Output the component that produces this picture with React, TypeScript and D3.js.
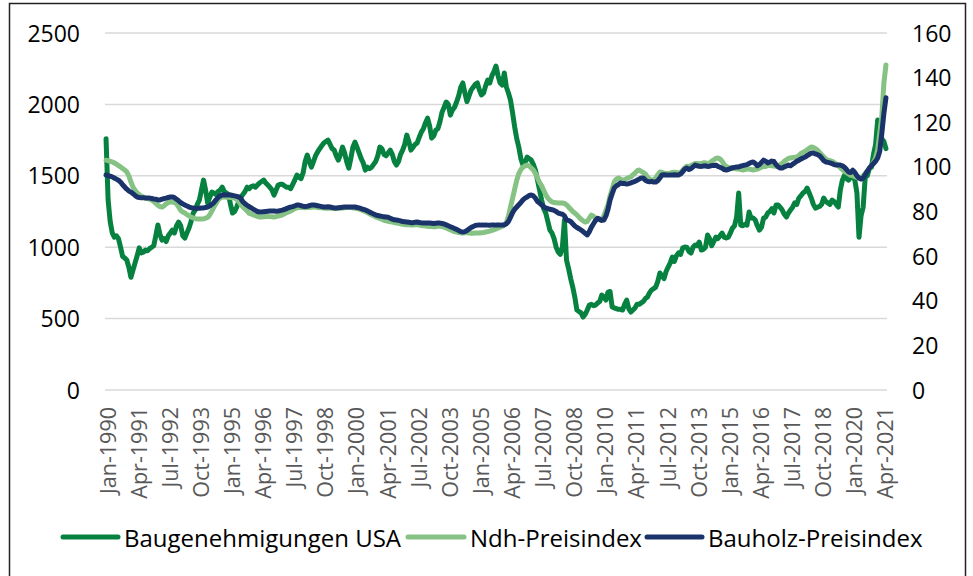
import React from "react";
import * as d3 from "d3";

// ---- Data (monthly, Jan 1990 – May 2021) ----
const startYear = 1990;

// Baugenehmigungen USA (left axis, thousands)
const permits: number[] = [
  1760, 1330, 1180, 1100, 1070, 1080, 1060, 1000, 935, 925, 910, 860, // 1990
  790, 840, 890, 940, 995, 960, 965, 980, 975, 990, 1000, 1010, // 1991
  1080, 1155, 1090, 1050, 1060, 1040, 1080, 1100, 1120, 1100, 1150, 1176, // 1992
  1150, 1080, 1064, 1100, 1134, 1180, 1239, 1260, 1300, 1330, 1400, 1470, // 1993
  1400, 1309, 1350, 1386, 1380, 1370, 1390, 1400, 1421, 1390, 1380, 1370, // 1994
  1300, 1239, 1250, 1280, 1320, 1350, 1370, 1390, 1420, 1410, 1425, 1430, // 1995
  1420, 1435, 1450, 1460, 1470, 1450, 1435, 1420, 1400, 1365, 1400, 1435, // 1996
  1440, 1440, 1430, 1420, 1420, 1410, 1440, 1470, 1505, 1490, 1480, 1520, // 1997
  1600, 1645, 1600, 1561, 1600, 1640, 1667, 1690, 1710, 1729, 1740, 1750, // 1998
  1720, 1690, 1680, 1640, 1610, 1650, 1701, 1660, 1600, 1554, 1620, 1700, // 1999
  1736, 1700, 1660, 1620, 1590, 1540, 1560, 1550, 1560, 1580, 1600, 1640, // 2000
  1701, 1690, 1650, 1640, 1660, 1680, 1650, 1600, 1575, 1600, 1650, 1680, // 2001
  1720, 1785, 1740, 1680, 1700, 1720, 1730, 1770, 1806, 1830, 1870, 1904, // 2002
  1850, 1764, 1780, 1820, 1830, 1880, 1946, 1980, 2017, 2000, 1925, 1960, // 2003
  1980, 2017, 2060, 2120, 2150, 2080, 2020, 2060, 2100, 2120, 2140, 2150, // 2004
  2100, 2066, 2080, 2130, 2170, 2150, 2200, 2230, 2269, 2200, 2150, 2136, // 2005
  2220, 2122, 2080, 2030, 1940, 1842, 1760, 1700, 1620, 1575, 1590, 1631, // 2006
  1620, 1610, 1580, 1540, 1470, 1400, 1330, 1270, 1239, 1180, 1120, 1099, // 2007
  1060, 1000, 966, 950, 1000, 1190, 910, 850, 780, 721, 650, 560, // 2008
  550, 540, 511, 530, 560, 595, 600, 590, 595, 610, 620, 665, // 2009
  650, 630, 686, 690, 581, 575, 570, 565, 565, 560, 600, 630, // 2010
  570, 546, 560, 575, 600, 600, 610, 620, 640, 651, 680, 700, // 2011
  710, 720, 760, 819, 800, 780, 830, 861, 890, 931, 900, 940, // 2012
  960, 950, 994, 1001, 1000, 970, 959, 1000, 1015, 1010, 1036, 980, // 2013
  985, 1000, 1085, 1060, 1010, 1040, 1070, 1060, 1080, 1099, 1070, 1064, // 2014
  1070, 1100, 1134, 1150, 1210, 1379, 1155, 1150, 1160, 1155, 1246, 1204, // 2015
  1204, 1190, 1150, 1120, 1140, 1204, 1210, 1239, 1250, 1270, 1240, 1295, // 2016
  1295, 1280, 1260, 1230, 1211, 1240, 1260, 1280, 1310, 1300, 1344, 1360, // 2017
  1379, 1390, 1414, 1380, 1344, 1300, 1274, 1280, 1285, 1300, 1344, 1320, // 2018
  1310, 1300, 1330, 1320, 1300, 1281, 1400, 1470, 1505, 1480, 1470, 1490, // 2019
  1500, 1470, 1380, 1070, 1220, 1280, 1490, 1500, 1550, 1560, 1650, 1720, // 2020
  1890, 1750, 1760, 1740, 1690, // 2021
];

// Ndh-Preisindex (right axis)
const ndhIndex: number[] = [
  103, 102.8, 102.5, 102.2, 101.8, 101.2, 100.6, 100, 99.3, 98.6, 97.8, 96, // 1990
  93.2, 91, 89.5, 88.3, 87.5, 86.8, 86.5, 86, 85.8, 85.5, 85.2, 84.5, // 1991
  83.6, 82.8, 82.2, 82, 82.5, 83.5, 84, 84.3, 84.2, 84, 83.5, 82, // 1992
  80.5, 79.8, 79.3, 78.6, 78, 77.5, 77.1, 76.8, 76.6, 76.6, 76.6, 76.7, // 1993
  77, 77.4, 78.5, 80.2, 82, 83.5, 85.2, 86, 86.5, 86.5, 86.4, 86.4, // 1994
  86.3, 86.2, 86, 85.5, 84.5, 83.2, 82, 81.2, 80.2, 79.2, 78.9, 78.5, // 1995
  78.2, 77.8, 77.5, 77.5, 77.6, 77.8, 77.8, 77.7, 77.6, 77.5, 77.7, 78, // 1996
  78.2, 78.5, 79, 79.5, 79.8, 80.2, 80.8, 81.3, 81.6, 81.8, 81.9, 81.8, // 1997
  81.7, 81.8, 81.8, 81.9, 82, 82, 81.8, 81.7, 81.7, 81.6, 81.5, 81.5, // 1998
  81.5, 81.4, 81.3, 81.3, 81.4, 81.5, 81.6, 81.7, 81.8, 81.8, 81.8, 81.6, // 1999
  81.5, 81.3, 81.1, 80.8, 80.4, 80, 79.5, 79, 78.5, 78.1, 77.6, 77.2, // 2000
  76.9, 76.5, 76.1, 75.8, 75.6, 75.4, 75.3, 75, 74.8, 74.7, 74.5, 74.3, // 2001
  74.2, 74.1, 74, 73.9, 73.9, 74, 74.1, 73.9, 73.7, 73.6, 73.5, 73.4, // 2002
  73.3, 73.3, 73.2, 73.2, 73.4, 73.4, 73.2, 73, 72.6, 72.2, 71.8, 71.4, // 2003
  71, 70.8, 70.6, 70.4, 70.4, 70.5, 70.5, 70.4, 70.3, 70.3, 70.4, 70.4, // 2004
  70.4, 70.5, 70.6, 70.8, 71, 71.2, 71.5, 71.8, 72.2, 72.6, 73, 73.4, // 2005
  73.9, 75, 78, 82, 86, 90, 94, 97, 98.8, 99.8, 100.5, 100.8, // 2006
  100.4, 99.5, 98.6, 97, 95, 93, 91.5, 89.5, 87.5, 86, 85, 84.3, // 2007
  84, 83.9, 83.8, 83.8, 83.8, 83.6, 83, 82, 81, 80, 79.3, 78.5, // 2008
  77.5, 76.5, 75.8, 75.3, 75.5, 77, 78.4, 77.8, 77, 76.5, 76.2, 76.5, // 2009
  78, 80.5, 83, 87, 90, 93.2, 94.5, 95, 94.5, 94, 94.2, 94.8, // 2010
  95.2, 95.5, 96.4, 97.2, 98.2, 98.6, 98, 97.5, 96.8, 95.5, 94.5, 94.1, // 2011
  94.1, 95, 96.5, 97.7, 97.5, 97.2, 97, 97, 97.2, 97.5, 97.6, 97.5, // 2012
  97.3, 97.4, 98.5, 99.5, 100.3, 100, 100.6, 101, 101.5, 101.5, 101.3, 101.5, // 2013
  101.8, 101.8, 101.5, 101.8, 102.5, 103.2, 103.8, 104, 103.5, 102.5, 101, 100.2, // 2014
  99.8, 99.6, 99.4, 99.2, 99, 99, 98.8, 98.6, 98.8, 99, 99, 98.8, // 2015
  98.6, 98.8, 99, 99.4, 99.8, 100.2, 100.2, 100.6, 100.6, 100.5, 100.4, 100.2, // 2016
  100.5, 101, 101.6, 102.5, 103.2, 103.8, 104, 104.2, 104.3, 104.5, 105, 106, // 2017
  106.5, 107, 107.6, 108.4, 108.9, 108.7, 108.2, 107.5, 106.5, 105.5, 104.5, 103.5, // 2018
  103, 102.8, 102.5, 102, 101.3, 100.5, 99.6, 98.8, 98, 97.4, 96.8, 96.2, // 2019
  96, 95.6, 95.3, 95, 95.2, 96, 97, 98.2, 99.2, 100.5, 102, 104, // 2020
  107.6, 115, 122.4, 137.6, 145.7, // 2021
];

// Bauholz-Preisindex (right axis)
const bauholzIndex: number[] = [
  96.4, 96, 95.8, 95.5, 95, 94.5, 94, 93.2, 92, 91, 90, 89.2, // 1990
  88.7, 88, 87.2, 86.5, 86.3, 86.2, 86.2, 86, 86, 86, 85.8, 85.6, // 1991
  85.5, 85.2, 85.2, 85.5, 85.8, 86, 86.3, 86.5, 86.5, 86.2, 85.5, 84.8, // 1992
  84, 83.4, 82.9, 82.5, 82, 81.7, 81.6, 81.5, 81.4, 81.5, 81.6, 81.6, // 1993
  81.8, 82, 82.5, 83.2, 84, 85.2, 86.2, 87, 87.4, 87.5, 87.4, 87.4, // 1994
  87.4, 87.2, 87, 86.8, 86.5, 85.8, 84.3, 83.5, 82.8, 82.2, 81.6, 81, // 1995
  80.5, 80, 79.8, 79.8, 79.9, 80, 80.1, 80.2, 80.2, 80.2, 80.1, 80.2, // 1996
  80.4, 80.6, 80.9, 81.3, 81.7, 82, 82.2, 82.5, 82.9, 82.9, 82.6, 82.3, // 1997
  82.2, 82.3, 82.6, 82.9, 82.9, 82.8, 82.6, 82.4, 82.2, 82, 82, 82.1, // 1998
  82, 81.8, 81.6, 81.6, 81.7, 81.8, 81.9, 82, 82, 82, 82, 82, // 1999
  82, 81.8, 81.6, 81.3, 81, 80.7, 80.3, 79.8, 79.3, 78.9, 78.5, 78.2, // 2000
  78, 77.8, 77.6, 77.5, 77.4, 77, 76.6, 76.3, 76.2, 76, 75.8, 75.5, // 2001
  75.4, 75.3, 75.2, 75, 75, 75.2, 75.3, 75.1, 74.9, 74.8, 74.8, 74.8, // 2002
  74.8, 74.7, 74.6, 74.7, 74.8, 74.8, 74.6, 74.4, 74, 73.6, 73.2, 72.8, // 2003
  72.4, 72, 71.5, 71, 70.8, 71, 71.5, 72.2, 72.8, 73.3, 73.7, 73.9, // 2004
  74, 73.9, 73.9, 74, 73.9, 73.8, 74, 74, 73.9, 73.9, 73.9, 74, // 2005
  74, 74.5, 75.5, 77.5, 79.5, 81, 82, 83, 84, 85.2, 86, 86.5, // 2006
  87.2, 87.4, 87, 86, 84.5, 83.8, 83, 82, 81.6, 81.3, 81, 80.8, // 2007
  80.5, 80, 79.3, 79, 78.8, 78, 76.2, 76, 75.5, 74.5, 73.5, 72.8, // 2008
  72.3, 71.7, 71, 70.2, 69.5, 71, 73, 74.5, 76, 77, 76.5, 76, // 2009
  76.2, 78, 81, 85.2, 88, 90.5, 91.5, 92, 92.8, 92.5, 92.5, 92.3, // 2010
  92.5, 92.8, 93.2, 93.5, 94, 94.5, 95, 95, 94, 93.5, 93.3, 93.5, // 2011
  93.2, 93.2, 93.8, 95, 96.4, 96.5, 96.4, 96.3, 96.4, 96.4, 96.5, 96.4, // 2012
  96.4, 96.8, 97.8, 99, 99.5, 98.8, 99.2, 100, 100.8, 100.5, 100.3, 100.2, // 2013
  100.4, 100.5, 100.2, 100.3, 100.6, 100.6, 100.8, 100.2, 99.8, 99.4, 98.8, 98.6, // 2014
  98.8, 99.2, 99.6, 99.8, 100, 100, 100.3, 100.6, 100.8, 101, 101.5, 102, // 2015
  102.2, 101.5, 100.5, 101, 102, 103, 102.5, 101.8, 102.2, 102.6, 102.4, 101, // 2016
  100, 99.5, 99.5, 100, 100.4, 100.8, 100.5, 101.2, 101.8, 102.5, 103, 103.5, // 2017
  104, 104.4, 105, 105.6, 106.2, 106.2, 105.8, 105.5, 105, 104, 102.8, 102.2, // 2018
  102, 101.8, 101.5, 101, 100.8, 100.8, 100.8, 100.5, 99.8, 98.8, 97.7, 97.5, // 2019
  98.5, 97.5, 96, 95, 94.5, 95, 96.5, 98, 99.5, 100.5, 101.5, 102.5, // 2020
  104, 107, 115, 124, 131, // 2021
];

const leftTicks = [0, 500, 1000, 1500, 2000, 2500];
const rightTicks = [0, 20, 40, 60, 80, 100, 120, 140, 160];
const monthNames = ["Jan", "Feb", "Mar", "Apr", "May", "Jun", "Jul", "Aug", "Sep", "Oct", "Nov", "Dec"];
const xTickLabels = [
  "Jan-1990", "Apr-1991", "Jul-1992", "Oct-1993", "Jan-1995", "Apr-1996", "Jul-1997",
  "Oct-1998", "Jan-2000", "Apr-2001", "Jul-2002", "Oct-2003", "Jan-2005", "Apr-2006",
  "Jul-2007", "Oct-2008", "Jan-2010", "Apr-2011", "Jul-2012", "Oct-2013", "Jan-2015",
  "Apr-2016", "Jul-2017", "Oct-2018", "Jan-2020", "Apr-2021",
];
const seriesNames = ["Baugenehmigungen USA", "Ndh-Preisindex", "Bauholz-Preisindex"];
const seriesColors = ["#06813F", "#85C283", "#1A336A"];

const categories = permits.map((_, i) => {
  const y = startYear + Math.floor(i / 12);
  return `${monthNames[i % 12]}-${y}`;
});

export default function App() {
  const W = 973;
  const H = 576;
  const plotLeft = 105;
  const plotRight = 887;
  const plotTop = 33;
  const plotBottom = 390;
  const font = "'Open Sans', 'Liberation Sans', sans-serif";

  const x = d3.scaleBand<string>().domain(categories).range([plotLeft, plotRight]).padding(0);
  const cx = (i: number) => (x(categories[i]) as number) + x.bandwidth() / 2;
  const yL = d3.scaleLinear().domain([0, 2500]).range([plotBottom, plotTop]);
  const yR = d3.scaleLinear().domain([0, 160]).range([plotBottom, plotTop]);

  const lineL = d3.line<number>().x((_, i) => cx(i)).y((d) => yL(d));
  const lineR = d3.line<number>().x((_, i) => cx(i)).y((d) => yR(d));

  const legendItems = [
    { name: seriesNames[0], color: seriesColors[0], x1: 63, x2: 118 },
    { name: seriesNames[1], color: seriesColors[1], x1: 408, x2: 464 },
    { name: seriesNames[2], color: seriesColors[2], x1: 647, x2: 702 },
  ];

  const sw = 5;

  return (
    <svg
      width={W}
      height={H}
      style={{ position: "absolute", left: 0, top: 0, background: "#fff" }}
      fontFamily={font}
    >
      <rect x={0} y={0} width={W} height={H} fill="#fff" />
      <rect x={9.5} y={3.5} width={956} height={600} fill="none" stroke="#222" strokeWidth={1.5} />

      {/* gridlines */}
      {leftTicks.map((t) => (
        <line key={t} x1={plotLeft} x2={plotRight} y1={yL(t)} y2={yL(t)} stroke="#d9d9d9" strokeWidth={1.5} />
      ))}

      {/* left axis labels */}
      {leftTicks.map((t) => (
        <text key={"l" + t} x={80} y={yL(t) + 8.5} textAnchor="end" fontSize={23} fill="#000">
          {t}
        </text>
      ))}

      {/* right axis labels */}
      {rightTicks.map((t) => (
        <text key={"r" + t} x={912} y={yR(t) + 8.5} textAnchor="start" fontSize={23} fill="#000">
          {t}
        </text>
      ))}

      {/* x axis labels */}
      {xTickLabels.map((lab) => {
        const i = categories.indexOf(lab);
        const px = cx(i) + 9.5;
        return (
          <text
            key={lab}
            transform={`translate(${px},407) rotate(-90)`}
            textAnchor="end"
            fontSize={21.5}
            fill="#595959"
          >
            {lab}
          </text>
        );
      })}

      {/* series */}
      <path d={lineL(permits) || ""} fill="none" stroke={seriesColors[0]} strokeWidth={sw} strokeLinejoin="round" strokeLinecap="round" />
      <path d={lineR(ndhIndex) || ""} fill="none" stroke={seriesColors[1]} strokeWidth={sw} strokeLinejoin="round" strokeLinecap="round" />
      <path d={lineR(bauholzIndex) || ""} fill="none" stroke={seriesColors[2]} strokeWidth={sw} strokeLinejoin="round" strokeLinecap="round" />

      {/* legend */}
      {legendItems.map((it) => (
        <g key={it.name}>
          <line x1={it.x1} x2={it.x2} y1={537} y2={537} stroke={it.color} strokeWidth={sw} strokeLinecap="round" />
          <text x={it.x2 + 6} y={547} fontSize={24} fill="#000">
            {it.name}
          </text>
        </g>
      ))}
    </svg>
  );
}
